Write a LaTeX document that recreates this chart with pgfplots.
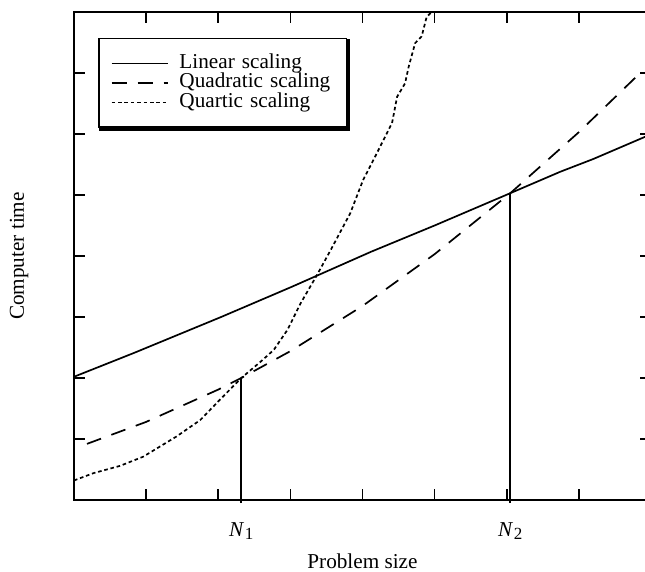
\documentclass[border=0pt]{standalone}
\usepackage{fontspec}
\setmainfont{Liberation Serif}
\usepackage{pgfplots}
\pgfplotsset{compat=1.18}
\newcommand{\lab}{\fontsize{10.6pt}{12pt}\selectfont}
\newcommand{\Nsub}[1]{\textit{N}\kern0.3pt\raisebox{-0.35ex}{\fontsize{8.5pt}{9pt}\selectfont #1}}
\begin{document}
\begin{tikzpicture}
\begin{axis}[
  name=ax,
  scale only axis,
  width=288.5pt, height=244pt,
  xmin=0, xmax=8, ymin=0, ymax=8,
  xtick={1,...,7}, ytick={1,...,7},
  xticklabels={}, yticklabels={},
  tick align=inside,
  major tick length=5.5pt,
  major tick style={line width=0.8pt, black},
  axis line style={line width=0.9pt},
  clip=false,
  xlabel={Problem size}, ylabel={Computer time},
  every axis x label/.style={at={(axis description cs:0.5,0)}, anchor=center, yshift=-30.5pt, font=\lab},
  every axis y label/.style={at={(axis description cs:0,0.5)}, xshift=-27.5pt, rotate=90, anchor=center, font=\lab},
  legend cell align=left,
  legend image code/.code={\draw[#1] (0pt,0pt) -- (28pt,0pt); \path (33.5pt,0pt);},
  legend style={name=leg, at={(0.0416,0.947)}, anchor=north west, draw=black, line width=0.8pt,
    inner xsep=6pt, inner ysep=7.5pt, row sep=0pt, column sep=0pt,
    font=\lab,
    nodes={inner sep=0pt, text height=7.25pt, text depth=2.5pt, text width=77.5pt, align=left}},
]
\addplot[black, line width=0.85pt] coordinates {
  (0,2.02) (0.83,2.41) (2.04,3.0) (3.01,3.49) (4.12,4.07) (5.0,4.5) (6.05,5.03) (6.74,5.38) (7.2,5.59) (7.95,5.97)
};
\addlegendentry{Linear scaling}
\addplot[black, line width=0.85pt, dash pattern=on 7.5pt off 5.5pt] coordinates {
  (0.18,0.92) (1,1.28) (2,1.81) (2.32,2.0) (3,2.44) (4,3.18) (5,4.03) (6.05,5.03) (7,6.03) (7.85,7.0)
};
\addlegendentry{Quadratic scaling}
\addplot[black, line width=0.85pt, dash pattern=on 1.8pt off 1.4pt] coordinates {
  (0,0.32) (0.27,0.44) (0.64,0.56) (0.96,0.71) (1.42,1.04) (1.75,1.31) (2.02,1.64) (2.32,2.0)
  (2.59,2.27) (2.77,2.46) (2.96,2.79) (3.14,3.22) (3.37,3.69) (3.56,4.10) (3.83,4.70) (4.01,5.25)
  (4.15,5.57) (4.29,5.90) (4.41,6.18) (4.48,6.61) (4.59,6.83) (4.64,7.10) (4.73,7.49) (4.82,7.60)
  (4.89,7.92) (4.96,8.0)
};
\addlegendentry{Quartic scaling}
\addplot[black, line width=0.85pt, forget plot] coordinates {(2.32,-0.05) (2.32,2.0)};
\addplot[black, line width=0.85pt, forget plot] coordinates {(6.05,-0.05) (6.05,5.03)};
\node[font=\lab, anchor=center] at (axis cs:2.32,0) [yshift=-15.5pt] {\Nsub{1}};
\node[font=\lab, anchor=center] at (axis cs:6.05,0) [yshift=-15.5pt] {\Nsub{2}};
\end{axis}
\fill[black] ([xshift=0.4pt]leg.south west) rectangle ([xshift=1.6pt,yshift=-1.6pt]leg.south east);
\fill[black] ([yshift=-0.4pt]leg.north east) rectangle ([xshift=1.6pt,yshift=-1.6pt]leg.south east);
\pgfresetboundingbox
\path[use as bounding box] ([shift={(-37pt,-36pt)}]ax.south west) rectangle ([shift={(285.5pt,250pt)}]ax.south west);
\end{tikzpicture}
\end{document}
